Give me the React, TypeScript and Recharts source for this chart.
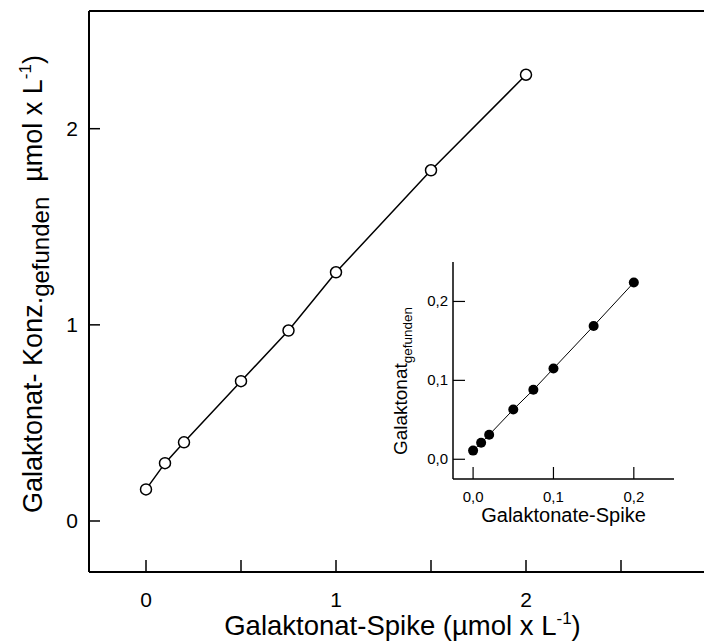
import { ComposedChart, Line, XAxis, YAxis, ReferenceLine, Label } from "recharts";

// main plot: spike vs. found concentration (µmol x L-1)
const mainSpike = [0, 0.1, 0.2, 0.5, 0.75, 1, 1.5, 2];
const mainFound = [0.161, 0.295, 0.401, 0.713, 0.971, 1.268, 1.788, 2.275];
const mainXTicks = [0, 0.5, 1, 1.5, 2, 2.5];
const mainYTicks = [0, 1, 2];

// inset: low range
const insetSpike = [0, 0.01, 0.02, 0.05, 0.075, 0.1, 0.15, 0.2];
const insetFound = [0.011, 0.021, 0.031, 0.063, 0.088, 0.115, 0.169, 0.224];
const insetTicks = [0, 0.1, 0.2];

const mainData = mainSpike.map((s, i) => ({ spike: s, found: mainFound[i] }));
const insetData = insetSpike.map((s, i) => ({ spike: s, found: insetFound[i] }));

const FONT = "'Liberation Sans', Arial, sans-serif";
const comma = (v: number) => v.toFixed(1).replace(".", ",");

function MainXTick(props: any) {
  const { x, y, payload } = props;
  const v = payload.value;
  return (
    <g>
      <line x1={x} x2={x} y1={y} y2={y - 12} stroke="#000" strokeWidth={1.5} />
      {Number.isInteger(v) ? (
        <text x={x} y={y + 35} textAnchor="middle" fontSize={21} fontFamily={FONT} fill="#000">
          {v}
        </text>
      ) : null}
    </g>
  );
}

function MainYTick(props: any) {
  const { x, y, payload } = props;
  return (
    <g>
      <line x1={x} x2={x + 11} y1={y} y2={y} stroke="#000" strokeWidth={1.5} />
      <text x={x - 11} y={y + 7} textAnchor="end" fontSize={21} fontFamily={FONT} fill="#000">
        {payload.value}
      </text>
    </g>
  );
}

function InsetXTick(props: any) {
  const { x, y, payload } = props;
  return (
    <g>
      <line x1={x} x2={x} y1={y} y2={y - 12} stroke="#000" strokeWidth={1.2} />
      <text x={x} y={y + 23} textAnchor="middle" fontSize={15} fontFamily={FONT} fill="#000">
        {comma(payload.value)}
      </text>
    </g>
  );
}

function InsetYTick(props: any) {
  const { x, y, payload } = props;
  return (
    <g>
      <line x1={x} x2={x + 12} y1={y} y2={y} stroke="#000" strokeWidth={1.2} />
      <text x={x - 5} y={y + 5} textAnchor="end" fontSize={15} fontFamily={FONT} fill="#000">
        {comma(payload.value)}
      </text>
    </g>
  );
}

export default function App() {
  return (
    <div
      style={{
        position: "absolute",
        left: 0,
        top: 0,
        width: 704,
        height: 642,
        overflow: "hidden",
        background: "#fff",
        fontFamily: FONT,
      }}
    >
      <div style={{ position: "absolute", left: 0, top: 0 }}>
        <ComposedChart width={760} height={642} data={mainData} margin={{ top: 11, right: 44, bottom: 0, left: 0 }}>
          <XAxis
            dataKey="spike"
            type="number"
            domain={[-0.3, 3.0]}
            ticks={mainXTicks}
            height={70}
            tickSize={0}
            tickMargin={0}
            tickLine={false}
            tick={<MainXTick />}
            axisLine={{ stroke: "#000", strokeWidth: 2 }}
            allowDataOverflow
          >
            <Label
              content={(p: any) => {
                const vb = p.viewBox;
                return (
                  <text x={vb.x + vb.width / 2} y={vb.y + 63} textAnchor="middle" fontSize={27.5} fontFamily={FONT} fill="#000">
                    Galaktonat-Spike (µmol x L
                    <tspan fontSize={17} dy={-11}>-1</tspan>
                    <tspan dy={11}>)</tspan>
                  </text>
                );
              }}
            />
          </XAxis>
          <YAxis
            type="number"
            domain={[-0.26, 2.6]}
            ticks={mainYTicks}
            width={89}
            tickSize={0}
            tickMargin={0}
            tickLine={false}
            tick={<MainYTick />}
            axisLine={{ stroke: "#000", strokeWidth: 2 }}
            allowDataOverflow
          >
            <Label
              content={() => {
                const cx = 42;
                const cy = 284;
                return (
                  <text
                    x={cx}
                    y={cy}
                    transform={`rotate(-90, ${cx}, ${cy})`}
                    textAnchor="middle"
                    fontSize={27}
                    fontFamily={FONT}
                    fill="#000"
                  >
                    Galaktonat- Konz.
                    <tspan fontSize={24} dy={7}>gefunden</tspan>
                    <tspan dy={-7}>{"\u00a0\u00a0µmol x L"}</tspan>
                    <tspan fontSize={17} dy={-11}>-1</tspan>
                    <tspan dy={11}>)</tspan>
                  </text>
                );
              }}
            />
          </YAxis>
          <ReferenceLine y={2.6} stroke="#000" strokeWidth={2} />
          <Line
            type="linear"
            dataKey="found"
            stroke="#000"
            strokeWidth={1.5}
            dot={{ r: 5.5, fill: "#fff", stroke: "#000", strokeWidth: 1.5 }}
            activeDot={false}
            isAnimationActive={false}
          />
        </ComposedChart>
      </div>

      <div style={{ position: "absolute", left: 340, top: 250 }}>
        <ComposedChart width={360} height={290} data={insetData} margin={{ top: 12, right: 26, bottom: 0, left: 0 }}>
          <XAxis
            dataKey="spike"
            type="number"
            domain={[-0.025, 0.25]}
            ticks={insetTicks}
            height={61}
            tickSize={0}
            tickMargin={0}
            tickLine={false}
            tick={<InsetXTick />}
            axisLine={{ stroke: "#000", strokeWidth: 1.5 }}
            allowDataOverflow
          >
            <Label
              content={(p: any) => {
                const vb = p.viewBox;
                return (
                  <text x={vb.x + vb.width / 2} y={vb.y + 43} textAnchor="middle" fontSize={20} fontFamily={FONT} fill="#000">
                    Galaktonate-Spike
                  </text>
                );
              }}
            />
          </XAxis>
          <YAxis
            type="number"
            domain={[-0.025, 0.25]}
            ticks={insetTicks}
            width={113}
            tickSize={0}
            tickMargin={0}
            tickLine={false}
            tick={<InsetYTick />}
            axisLine={{ stroke: "#000", strokeWidth: 1.5 }}
            allowDataOverflow
          >
            <Label
              content={() => {
                const cx = 67;
                const cy = 131;
                return (
                  <text
                    x={cx}
                    y={cy}
                    transform={`rotate(-90, ${cx}, ${cy})`}
                    textAnchor="middle"
                    fontSize={19}
                    fontFamily={FONT}
                    fill="#000"
                  >
                    Galaktonat
                    <tspan fontSize={13.5} dy={5}>gefunden</tspan>
                  </text>
                );
              }}
            />
          </YAxis>
          <Line
            type="linear"
            dataKey="found"
            stroke="#000"
            strokeWidth={1}
            dot={{ r: 5, fill: "#000", stroke: "#000", strokeWidth: 0 }}
            activeDot={false}
            isAnimationActive={false}
          />
        </ComposedChart>
      </div>
    </div>
  );
}
